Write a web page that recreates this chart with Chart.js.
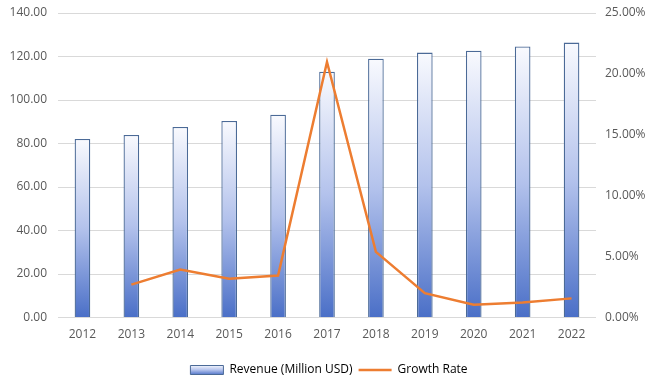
<!DOCTYPE html>
<html>
<head>
<meta charset="utf-8">
<script src="https://cdn.jsdelivr.net/npm/chart.js@4"></script>
<style>
    html, body { margin: 0; padding: 0; background: #fff; }
    #wrap { width: 658px; height: 390px; }
</style>
</head>
<body>
<div id="wrap"><canvas id="myChart"></canvas></div>
<script>
// values
const years = ['2012', '2013', '2014', '2015', '2016', '2017', '2018', '2019', '2020', '2021', '2022'];
const revenue = [82.1, 83.9, 87.6, 90.4, 93.2, 113.0, 119.0, 121.8, 122.7, 124.6, 126.4];
const growthRate = [null, 0.027, 0.0393, 0.0319, 0.0344, 0.2098, 0.0539, 0.020, 0.0105, 0.0124, 0.0157];

const textColor = '#595959';
const gridColor = '#d9d9d9';
const barTop = '#f9fafe';
const barMid = '#b3c2ec';
const barBottom = '#4a6fc7';

function barGradient(c, top, bottom) {
    const g = c.createLinearGradient(0, top, 0, bottom);
    g.addColorStop(0, barTop);
    g.addColorStop(0.5, barMid);
    g.addColorStop(1, barBottom);
    return g;
}

// legend swatch gets the same top-to-bottom fade as the bars
const legendGradient = {
    id: 'legendGradient',
    beforeDraw(chart) {
        const legend = chart.legend;
        if (!legend || !legend.legendHitBoxes || !legend.legendHitBoxes.length) return;
        const box = legend.legendHitBoxes[0];
        const mid = box.top + box.height / 2;
        legend.legendItems[0].fillStyle = barGradient(chart.ctx, mid - 5, mid + 5);
    }
};

const tickFont = { family: 'Open Sans', size: 12 };

const ctx = document.getElementById('myChart').getContext('2d');
const myChart = new Chart(ctx, {
    type: 'bar',
    data: {
        labels: years,
        datasets: [{
            type: 'bar',
            label: 'Revenue (Million USD)',
            data: revenue,
            yAxisID: 'y',
            order: 2,
            backgroundColor: function (c) {
                const chart = c.chart;
                if (c.type !== 'data' || !chart.chartArea) return barMid;
                const top = chart.scales.y.getPixelForValue(c.raw);
                const bottom = chart.scales.y.getPixelForValue(0);
                return barGradient(chart.ctx, top, bottom);
            },
            borderColor: '#4b6a97',
            borderWidth: 1.3,
            barPercentage: 0.32,
            categoryPercentage: 1
        }, {
            type: 'line',
            label: 'Growth Rate',
            data: growthRate,
            yAxisID: 'y1',
            order: 1,
            borderColor: '#ED7D31',
            backgroundColor: '#ED7D31',
            borderWidth: 2.5,
            pointRadius: 0,
            tension: 0,
            spanGaps: false
        }]
    },
    options: {
        responsive: true,
        maintainAspectRatio: false,
        animation: false,
        layout: { padding: { left: 0, right: 0, top: 13, bottom: 4 } },
        plugins: {
            tooltip: { enabled: false },
            legend: {
                position: 'bottom',
                labels: {
                    color: textColor,
                    font: tickFont,
                    usePointStyle: true,
                    pointStyleWidth: 33,
                    boxHeight: 9,
                    padding: 6,
                    sort: (a, b) => a.datasetIndex - b.datasetIndex,
                    generateLabels: function (chart) {
                        return [{
                            text: 'Revenue (Million USD)',
                            fillStyle: barMid,
                            strokeStyle: '#4b6a97',
                            lineWidth: 1,
                            pointStyle: 'rect',
                            datasetIndex: 0
                        }, {
                            text: 'Growth Rate',
                            fillStyle: '#ED7D31',
                            strokeStyle: '#ED7D31',
                            lineWidth: 2.5,
                            pointStyle: 'line',
                            datasetIndex: 1
                        }];
                    }
                }
            }
        },
        scales: {
            x: {
                grid: { display: false, drawTicks: false },
                border: { display: false },
                ticks: { color: textColor, font: tickFont, padding: 10 },
                afterFit: s => { s.height = 40.5; }
            },
            y: {
                position: 'left',
                min: 0,
                max: 140,
                grid: { color: gridColor, lineWidth: 1, drawTicks: false },
                border: { display: false },
                ticks: {
                    stepSize: 20,
                    color: textColor,
                    font: tickFont,
                    padding: 11,
                    callback: v => v.toFixed(2)
                },
                afterFit: s => { s.width = 58; s.paddingTop = 0; s.paddingBottom = 0; }
            },
            y1: {
                position: 'right',
                min: 0,
                max: 0.25,
                grid: { display: false, drawTicks: false },
                border: { display: false },
                ticks: {
                    stepSize: 0.05,
                    color: textColor,
                    font: tickFont,
                    padding: 9,
                    callback: v => (v * 100).toFixed(2) + '%'
                },
                afterFit: s => { s.width = 62; s.paddingTop = 0; s.paddingBottom = 0; }
            }
        }
    },
    plugins: [legendGradient]
});
</script>
</body>
</html>
